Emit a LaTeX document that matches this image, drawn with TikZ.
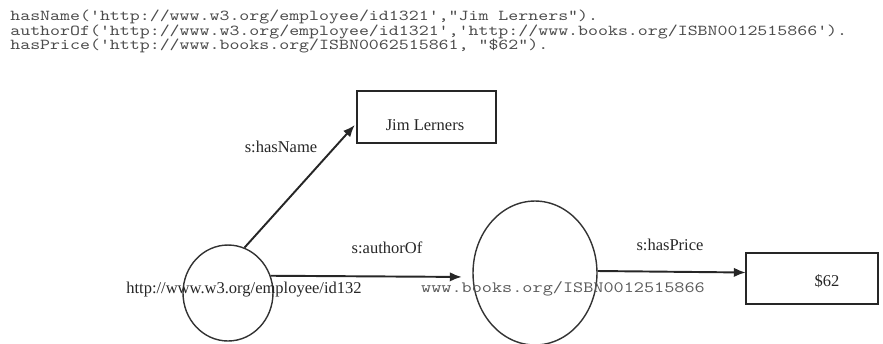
\documentclass[tikz,border=0pt]{standalone}
\usepackage{fontspec}
\setmainfont{Liberation Serif}
\usepackage{tikz}
\usetikzlibrary{arrows, arrows.meta}
\usetikzlibrary{shapes.geometric, positioning, calc}

\newcommand{\squashtext}[1]{\scalebox{1}[0.8]{#1}}

\begin{document}
\begin{tikzpicture}[>={Latex[length=0.24cm, width=0.19cm]}, x=0.02cm, y=-0.02cm,
    res/.style={draw=black!80, ellipse, line width=0.8pt, inner sep=0pt},
    lit/.style={draw=black!85, rectangle, line width=1.4pt, inner sep=0pt},
    rel/.style={->, line width=1.1pt, draw=black!85},
    lbl/.style={font=\fontsize{9.4}{10}\selectfont, text=black!85, inner sep=0pt},
    code/.style={font=\ttfamily\fontsize{10.8}{11}\selectfont, text=black!70, anchor=west, inner sep=0pt}]

    \useasboundingbox (0,0) rectangle (883,343);

    % the three facts
    \node[code] (fact1) at (10,17) {\squashtext{hasName('http://www.w3.org/employee/id1321',"Jim Lerners").}};
    \node[code] (fact2) at (10,32) {\squashtext{authorOf('http://www.w3.org/employee/id1321','http://www.books.org/ISBN0012515866').}};
    \node[code] (fact3) at (10,46) {\squashtext{hasPrice('http://www.books.org/ISBN0062515861, "\$62").}};

    % graph
    \node[res, minimum width=1.8cm, minimum height=1.92cm] (emp) at (228,293) {};
    \node[res, minimum width=2.48cm, minimum height=2.88cm] (book) at (535,273) {};
    \node[lit, minimum width=2.78cm, minimum height=1.04cm] (jim) at (426.5,117) {};
    \node[lit, minimum width=2.64cm, minimum height=1.02cm] (price) at (812,278.5) {};

    \node[lbl] (emptxt) at (244,290) {http://www.w3.org/employee/id132};
    \node[code, anchor=center, font=\ttfamily\fontsize{11.2}{12}\selectfont, text=black!65] (booktxt) at (563,289) {\squashtext{www.books.org/ISBN0012515866}};
    \node[lbl] (jimtxt) at (425,125) {Jim Lerners};
    \node[lbl] (pricetxt) at (827,281) {\$62};

    \draw[rel] (emp.70) -- ($(jim.west)+(-1,8)$);
    \draw[rel, shorten >=6pt] (emp.22) -- ($(book.west)+(0,4)$);
    \draw[rel] ($(book.east)+(0,-2)$) -- ($(price.west)+(1,-6)$);

    \node[lbl] (hasname) at (281,147) {s:hasName};
    \node[lbl] (authorof) at (387,248) {s:authorOf};
    \node[lbl] (hasprice) at (670,245) {s:hasPrice};
\end{tikzpicture}
\end{document}
